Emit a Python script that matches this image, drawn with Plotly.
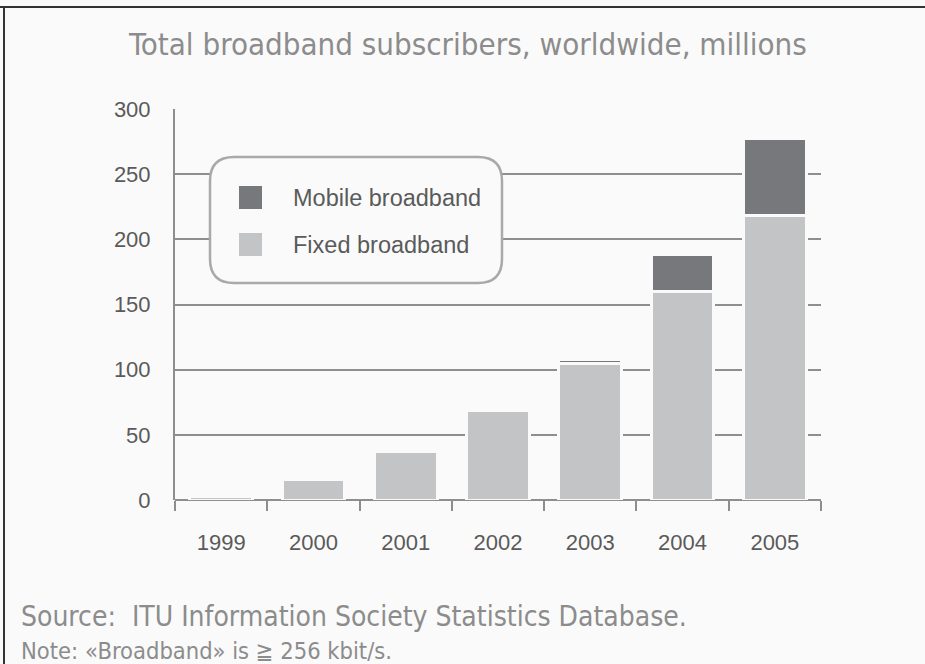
import plotly.graph_objects as go

years = ["1999", "2000", "2001", "2002", "2003", "2004", "2005"]
fixed = [3, 16, 37, 69, 105, 160, 218.5]
mobile = [0, 0, 0, 0, 3, 28.5, 59]
series_names = ["Mobile broadband", "Fixed broadband"]
y_ticks = [0, 50, 100, 150, 200, 250, 300]

BG = "#fafafa"
C_MOBILE = "#77787b"
C_FIXED = "#c3c4c6"
GRID = "#8e8e8e"
TXT = "#5a5a5a"
TITLE_C = "#8c8c8c"
COND = "DejaVu Sans Condensed, Liberation Sans Narrow, Roboto, sans-serif"

fig = go.Figure()
fig.add_trace(go.Bar(x=years, y=fixed, name=series_names[1],
                     marker=dict(color=C_FIXED, line=dict(color=BG, width=3)), showlegend=False))
fig.add_trace(go.Bar(x=years, y=mobile, name=series_names[0],
                     marker=dict(color=C_MOBILE, line=dict(color=BG, width=3)), showlegend=False))

fig.update_layout(
    width=925, height=664,
    margin=dict(l=175, r=104, t=109, b=164),
    paper_bgcolor=BG, plot_bgcolor=BG,
    barmode="stack", bargap=0.32,
    font=dict(family="Liberation Sans, Arial, sans-serif", color=TXT, size=18),
    xaxis=dict(type="category", showgrid=False, showline=False, zeroline=False,
               ticks="outside", tickson="boundaries", ticklen=10, tickwidth=2, tickcolor=GRID,
               tickfont=dict(size=22, color=TXT), ticklabelstandoff=27),
    yaxis=dict(range=[0, 300], tickvals=y_ticks, showgrid=True, gridcolor=GRID, gridwidth=2,
               zeroline=True, zerolinecolor=GRID, zerolinewidth=2,
               showline=True, linecolor=GRID, linewidth=2, ticks="",
               tickfont=dict(size=22, color=TXT), ticklabelstandoff=18),
    showlegend=False,
)

# plot-area pixel helpers (for legend box / frame decorations)
L, R, T, B = 175, 821, 109, 500
def ppx(p):
    return (p - L) / (R - L)
def ppy(p):
    return (B - p) / (B - T)
def conv(path):
    out, buf = [], []
    for t in path.split():
        try:
            buf.append(float(t))
            if len(buf) == 2:
                out.append(f"{ppx(buf[0]):.5f},{ppy(buf[1]):.5f}")
                buf = []
        except ValueError:
            out.append(t)
    return " ".join(out)

# Title and footer text
fig.add_annotation(text="Total broadband subscribers, worldwide, millions", xref="paper", yref="paper",
                   x=ppx(467), y=ppy(44), xanchor="center", yanchor="middle", showarrow=False,
                   font=dict(family=COND, size=31, color=TITLE_C))
fig.add_annotation(text="Source:  ITU Information Society Statistics Database.", xref="paper", yref="paper",
                   x=ppx(19), y=ppy(616), xanchor="left", yanchor="middle", showarrow=False,
                   font=dict(family=COND, size=28, color=TITLE_C))
fig.add_annotation(text="Note: «Broadband» is ≧ 256 kbit/s.", xref="paper", yref="paper",
                   x=ppx(19), y=ppy(651), xanchor="left", yanchor="middle", showarrow=False,
                   font=dict(family=COND, size=23.5, color=TITLE_C))

# Legend with rounded box
x0, x1, y0, y1, r = 210, 502, 157, 283, 24
path = (f"M {x0+r} {y0} L {x1-r} {y0} Q {x1} {y0} {x1} {y0+r} L {x1} {y1-r} Q {x1} {y1} {x1-r} {y1} "
        f"L {x0+r} {y1} Q {x0} {y1} {x0} {y1-r} L {x0} {y0+r} Q {x0} {y0} {x0+r} {y0} Z")
fig.add_shape(type="path", xref="paper", yref="paper", path=conv(path),
              fillcolor=BG, line=dict(color="#a9a9a9", width=2.5), layer="above")
for (ya, yb, col, name) in [(186, 209, C_MOBILE, series_names[0]), (233, 256, C_FIXED, series_names[1])]:
    fig.add_shape(type="rect", xref="paper", yref="paper", x0=ppx(239), x1=ppx(262), y0=ppy(yb), y1=ppy(ya),
                  fillcolor=col, line=dict(width=0), layer="above")
    fig.add_annotation(text=name, xref="paper", yref="paper", x=ppx(291), y=ppy((ya + yb) / 2),
                       xanchor="left", yanchor="middle", showarrow=False,
                       font=dict(size=23.5, color=TXT))

# Frame lines (top and left)
fig.add_shape(type="line", xref="paper", yref="paper", x0=ppx(0), x1=ppx(925), y0=ppy(7), y1=ppy(7),
              line=dict(color="#333333", width=2))
fig.add_shape(type="line", xref="paper", yref="paper", x0=ppx(4), x1=ppx(4), y0=ppy(7), y1=ppy(664),
              line=dict(color="#333333", width=2))

fig.write_html("out.html", config={"displayModeBar": False},
               post_script="document.body.style.margin='0';document.body.style.overflow='hidden';")
